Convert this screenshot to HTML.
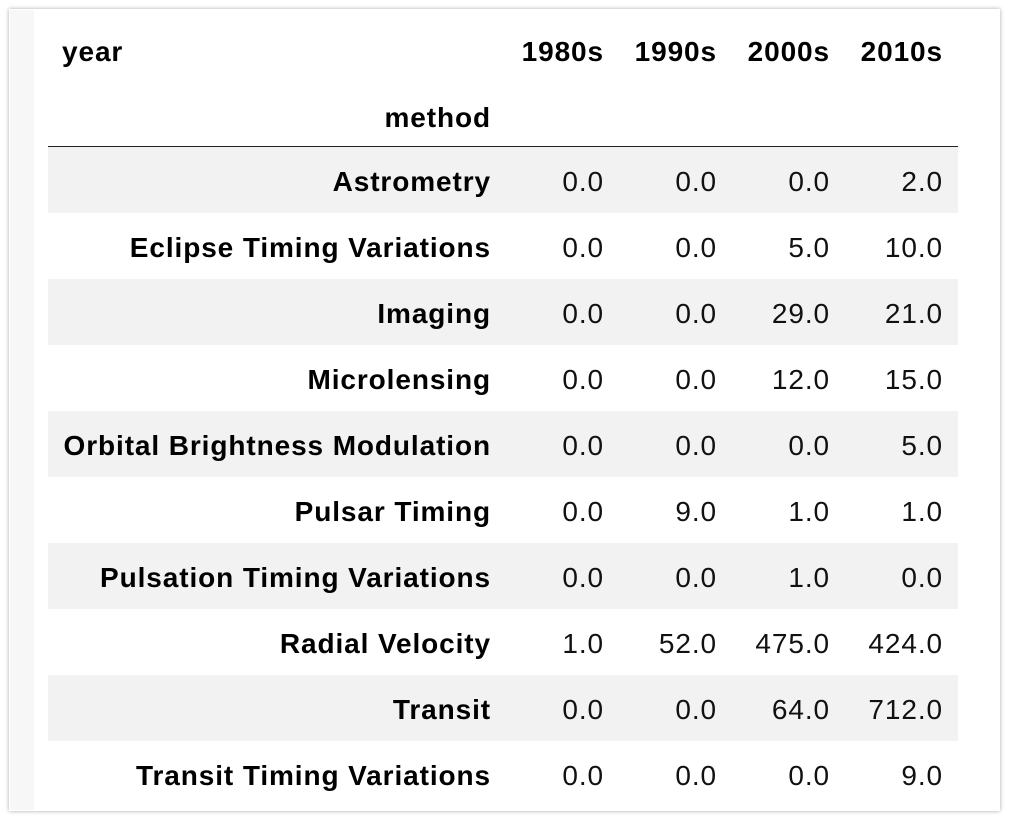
<!DOCTYPE html>
<html><head><meta charset="utf-8"><style>
body{margin:0;width:1010px;height:822px;background:#fff;overflow:hidden;font-family:"Liberation Sans",Arial,sans-serif;}
#card{position:absolute;left:9px;top:9px;width:991px;height:802px;background:#fff;box-shadow:0 0 4px rgba(0,0,0,0.35);}
#strip{position:absolute;left:10px;top:10px;width:24px;height:800px;background:#f7f7f7;}
.t{position:absolute;font-size:28px;letter-spacing:0.9px;color:#111;text-align:right;line-height:66px;height:66px;white-space:nowrap;}
.b{font-weight:bold;color:#000;}
.row{position:absolute;left:48px;width:910px;height:66px;}
#rule{position:absolute;left:48px;top:146px;width:910px;height:2px;background:#222;}
</style></head><body>
<div id="card"></div>
<div id="strip"></div>
<div id="tbl"></div>
<script>
const methods=["Astrometry","Eclipse Timing Variations","Imaging","Microlensing","Orbital Brightness Modulation","Pulsar Timing","Pulsation Timing Variations","Radial Velocity","Transit","Transit Timing Variations"];
const decades=["1980s","1990s","2000s","2010s"];
const v1980=[0,0,0,0,0,0,0,1,0,0];
const v1990=[0,0,0,0,0,9,0,52,0,0];
const v2000=[0,5,29,12,0,1,1,475,64,0];
const v2010=[2,10,21,15,5,1,0,424,712,9];
const cols=[v1980,v1990,v2000,v2010];
const tbl=document.getElementById('tbl');
const rights=[603,716,829,942];
const dy=2;
function cell(txt,right,top,bold,name){
  const d=document.createElement('div');
  d.className='t'+(bold?' b':'');
  d.textContent=txt;
  d.style.right=(1010-right-1)+'px';
  d.style.top=(top+dy)+'px';
  
  
  tbl.appendChild(d);
}
const y0=17;
const yl=document.createElement('div');
yl.className='t b';yl.textContent='year';yl.style.left='62px';yl.style.top=(y0+dy)+'px';yl.style.textAlign='left';


tbl.appendChild(yl);
decades.forEach((d,i)=>cell(d,rights[i],y0,true,'column-header-'+d));
cell('method',490,y0+66,true,'index-axis-label');
const rule=document.createElement('div');rule.id='rule';


tbl.appendChild(rule);
methods.forEach((m,r)=>{
  const top=147+r*66;
  const row=document.createElement('div');
  row.className='row';row.style.top=top+'px';
  row.style.background=r%2===0?'#f2f2f2':'#fff';
  
  
  tbl.appendChild(row);
  cell(m,490,top,true,'row-label');
  cols.forEach((c,i)=>cell(c[r].toFixed(1),rights[i],top,false,'value-cell'));
});
</script>
</body></html>
